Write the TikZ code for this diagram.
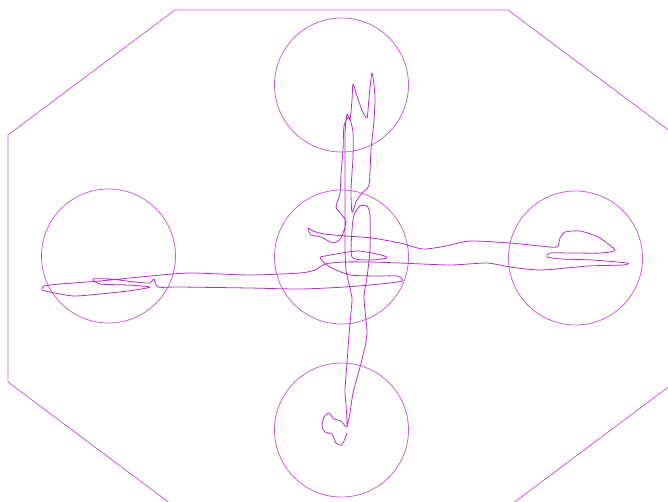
\documentclass[tikz,border=0pt]{standalone}
\usepackage{tikz}
\usepackage{xcolor}
\definecolor{trackpink}{RGB}{180,45,200}
\definecolor{arenapink}{RGB}{200,95,215}

\begin{document}
\begin{tikzpicture}[x=0.02cm,y=-0.02cm,line width=0.45pt]
\tikzset{arena/.style={draw=arenapink},zone/.style={draw=arenapink},track/.style={draw=trackpink,line join=round}}
\clip (0,0) rectangle (668,501);
% arena outline
\draw[arena] (175,10) -- (508,10) -- (675,135) -- (675,382) -- (508,507) -- (175,507) -- (8,382) -- (8,135) -- cycle;
% zones
\coordinate (zc) at (341.5,257);
\coordinate (zn) at (341.5,85);
\coordinate (zs) at (341.5,430);
\coordinate (zw) at (108.5,256);
\coordinate (ze) at (575.5,258);
\foreach \z in {zc,zn,zs,zw,ze} \draw[zone] (\z) circle[radius=67];
% track
\draw[track] plot[smooth,tension=0.4] coordinates {
(347,433) (342,445) (336,443) (332,434) (325,432) (322,426) (324,417) (329,413) (334,419) (341,421) (347,427)
(346,405) (345,390) (347,363) (349,335) (351,312) (352,298) (349,284) (346,270) (345,250) (345,225) (345,200)
(345,175) (345,150) (345,133) (347,114) (350,120) (352,100) (353,84) (357,96) (362,110) (367,118) (369,98)
(372,73) (375,96) (374,120) (371,150) (369,185) (362,193) (356,202) (352,212) (351,190) (353,157) (353,132)
(349,117) (344,126) (343,150) (341,175) (340,193) (336,207) (341,214) (346,222) (341,238) (333,243)
(321,237) (311,235) (308,228) (313,231) (324,234) (346,236) (372,238) (400,243) (423,249) (446,246) (470,241)
(510,243) (540,246) (557,247) (560,238) (565,232) (580,231) (598,237) (615,250) (600,253) (572,253) (550,253)
(547,257) (562,259) (592,260) (627,263) (623,265) (588,266) (541,270) (510,267) (487,263) (450,265) (400,263)
(370,262) (343,262) (325,264) (315,270) (300,273) (250,275) (190,273) (150,276) (100,281) (60,284) (44,286)
(42,290) (55,293) (75,296) (110,293) (135,290) (150,287) (128,285) (100,284) (93,279) (110,279) (135,282)
(150,283) (154,279) (158,287) (180,287) (250,288) (300,289) (345,287) (380,284) (402,281) (398,276) (380,276)
(350,275) (330,267) (320,258) (325,256) (357,251) (381,255) (387,258) (370,260) (352,257) (352,230) (354,215)
(360,206) (367,206) (370,215) (370,250) (367,277) (364,297) (366,320) (367,333) (365,347) (360,367) (353,393)
(350,413) (347,427)};
\end{tikzpicture}
\end{document}
